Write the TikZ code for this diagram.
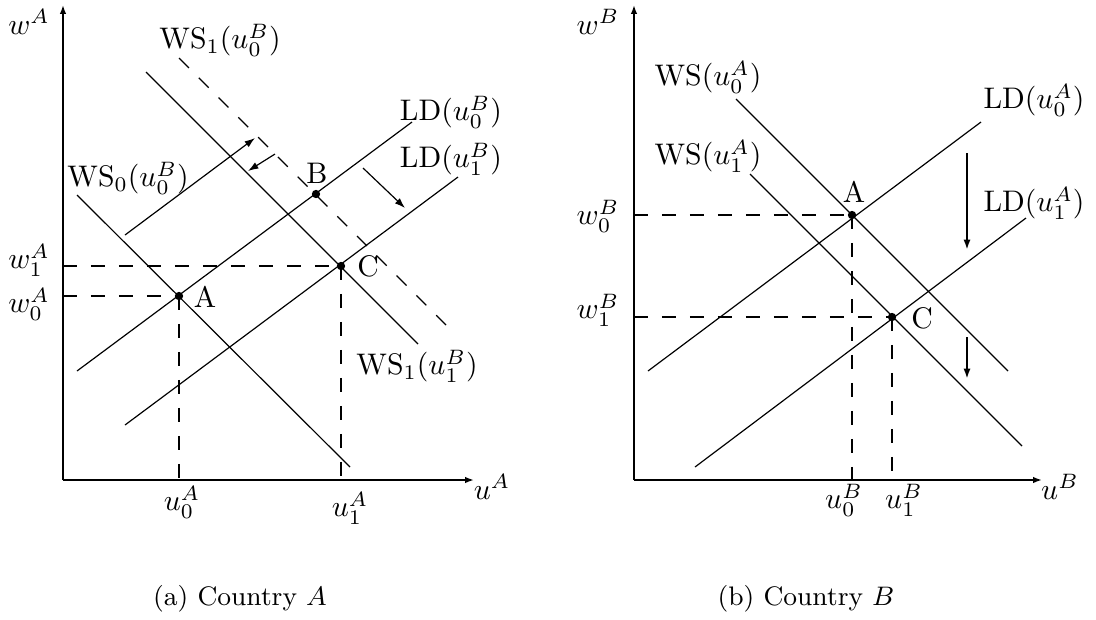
\documentclass[tikz,border=0pt]{standalone}
\usetikzlibrary{arrows.meta}
\begin{document}
\begin{tikzpicture}[x=0.336pt,y=-0.336pt,
  axis/.style={line width=0.75pt,-{Latex[length=3pt,width=2.2pt]}},
  curve/.style={line width=0.4pt},
  dashcurve/.style={line width=0.4pt,dash pattern=on 4.7pt off 4.7pt},
  guide/.style={line width=0.4pt,dash pattern=on 4.7pt off 4.7pt},
  shiftarrow/.style={line width=0.4pt,-{Latex[length=3.5pt,width=2.4pt]}},
  bigarrow/.style={line width=0.75pt,-{Latex[length=3.5pt,width=2.4pt]}},
  dot/.style={circle,fill,inner sep=0pt,minimum size=2.8pt},
  lab/.style={inner sep=0pt},
  captext/.style={inner sep=0pt,font=\small}]
\useasboundingbox (0,0) rectangle (1096,619);

% ---------------- Panel (a) ----------------
\coordinate (OA) at (63,480);
\coordinate (YA) at (63,5);
\coordinate (XA) at (474,480);
\draw[axis] (OA) -- (YA);
\draw[axis] (OA) -- (XA);
\node[lab] (wA) at (29,22) {$w^A$};
\node[lab] (uA) at (492,487) {$u^A$};

\node[dot] (aA) at (179,296) {};
\node[dot] (aB) at (316,194) {};
\node[dot] (aC) at (341,266) {};

\coordinate (ws0s) at (77,195);   \coordinate (ws0e) at (350,467);
\coordinate (ws1s) at (146,72);   \coordinate (ws1e) at (418,344);
\coordinate (ws1ds) at (179,58);  \coordinate (ws1de) at (452,331);
\coordinate (ld0s) at (77,371);   \coordinate (ld0e) at (412,122);
\coordinate (ld1s) at (125,425);  \coordinate (ld1e) at (458,177);
\draw[curve] (ws0s) -- (ws0e);
\draw[curve] (ws1s) -- (ws1e);
\draw[dashcurve] (ws1ds) -- (ws1de);
\draw[curve] (ld0s) -- (ld0e);
\draw[curve] (ld1s) -- (ld1e);

\coordinate (ar1s) at (125,235); \coordinate (ar1e) at (255,138);
\coordinate (ar2s) at (275,154); \coordinate (ar2e) at (248,171);
\coordinate (ar3s) at (363,168); \coordinate (ar3e) at (405,208);
\draw[shiftarrow] (ar1s) -- (ar1e);
\draw[shiftarrow] (ar2s) -- (ar2e);
\draw[shiftarrow] (ar3s) -- (ar3e);

\coordinate (gA1) at (63,266);
\coordinate (gA0) at (63,296);
\coordinate (gAu0) at (179,480);
\coordinate (gAu1) at (341,480);
\draw[guide] (gA1) -- (aC.center);
\draw[guide] (gA0) -- (aA.center);
\draw[guide] (aA.center) -- (gAu0);
\draw[guide] (aC.center) -- (gAu1);

\node[lab] (tw1A) at (29,260) {$w_1^A$};
\node[lab] (tw0A) at (29,304) {$w_0^A$};
\node[lab] (tu0A) at (182,502) {$u_0^A$};
\node[lab] (tu1A) at (350,508) {$u_1^A$};

\node[lab] (lA) at (205,297) {A};
\node[lab] (lB) at (317,173) {B};
\node[lab] (lC) at (368,266) {C};

\node[lab] (lws0) at (128,178) {WS$_0(u_0^B)$};
\node[lab] (lws1d) at (220,40) {WS$_1(u_0^B)$};
\node[lab] (lld0) at (451,112) {LD$(u_0^B)$};
\node[lab] (lld1) at (451,159) {LD$(u_1^B)$};
\node[lab] (lws1) at (417,366) {WS$_1(u_1^B)$};

\node[captext] (capa) at (240,599) {(a) Country $A$};

% ---------------- Panel (b) ----------------
\coordinate (OB) at (634,480);
\coordinate (YB) at (634,5);
\coordinate (XB) at (1042,480);
\draw[axis] (OB) -- (YB);
\draw[axis] (OB) -- (XB);
\node[lab] (wB) at (598,22) {$w^B$};
\node[lab] (uB) at (1060,487) {$u^B$};

\node[dot] (bA) at (852,215) {};
\node[dot] (bC) at (892,317) {};

\coordinate (bws0s) at (736,99);   \coordinate (bws0e) at (1008,371);
\coordinate (bws1s) at (750,174);  \coordinate (bws1e) at (1022,446);
\coordinate (bld0s) at (648,371);  \coordinate (bld0e) at (981,122);
\coordinate (bld1s) at (695,467);  \coordinate (bld1e) at (1026,218);
\draw[curve] (bws0s) -- (bws0e);
\draw[curve] (bws1s) -- (bws1e);
\draw[curve] (bld0s) -- (bld0e);
\draw[curve] (bld1s) -- (bld1e);

\coordinate (bar1s) at (967,153); \coordinate (bar1e) at (967,250);
\coordinate (bar2s) at (967,337); \coordinate (bar2e) at (967,379);
\draw[bigarrow] (bar1s) -- (bar1e);
\draw[bigarrow] (bar2s) -- (bar2e);

\coordinate (gB0) at (634,215);
\coordinate (gB1) at (634,317);
\coordinate (gBu0) at (852,480);
\coordinate (gBu1) at (892,480);
\draw[guide] (gB0) -- (bA.center);
\draw[guide] (gB1) -- (bC.center);
\draw[guide] (bA.center) -- (gBu0);
\draw[guide] (bC.center) -- (gBu1);

\node[lab] (tw0B) at (598,216) {$w_0^B$};
\node[lab] (tw1B) at (598,310) {$w_1^B$};
\node[lab] (tu0B) at (844,500) {$u_0^B$};
\node[lab] (tu1B) at (904,500) {$u_1^B$};

\node[lab] (lbA) at (854,192) {A};
\node[lab] (lbC) at (922,318) {C};

\node[lab] (lbws0) at (708,77) {WS$(u_0^A)$};
\node[lab] (lbws1) at (708,156) {WS$(u_1^A)$};
\node[lab] (lbld0) at (1034,100) {LD$(u_0^A)$};
\node[lab] (lbld1) at (1034,203) {LD$(u_1^A)$};

\node[captext] (capb) at (806,599) {(b) Country $B$};
\end{tikzpicture}
\end{document}
